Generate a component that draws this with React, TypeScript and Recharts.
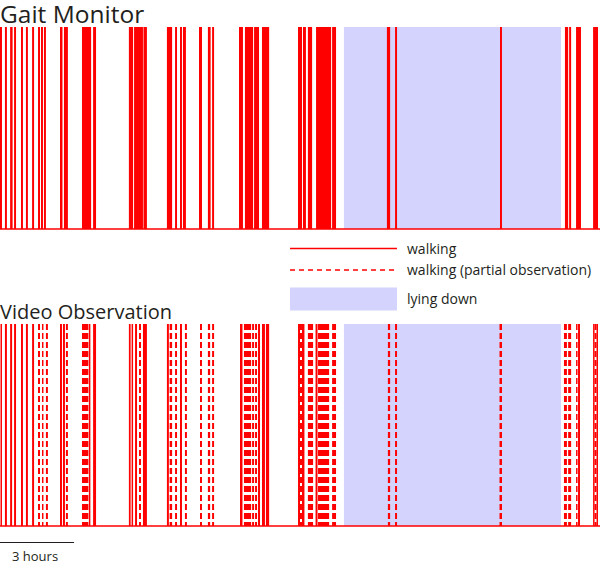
import { ComposedChart, XAxis, YAxis, ReferenceArea, Line } from "recharts";

const RED = "#ff0000";
const LAVENDER = "#d3d3fe";
const FONT = "'Open Sans', sans-serif";

const SPAN_HOURS = 24.3;
const SCALE_BAR_HOURS = 3;
const WIDTH = 600;

// walking bouts, [start, end] in hours from the start of the recording
const gaitWalking: [number, number][] = [
  [0.0, 0.08], [0.2, 0.28], [0.41, 0.51], [0.57, 0.65], [0.85, 0.93],
  [1.05, 1.13], [1.3, 1.38], [1.54, 1.62], [1.66, 1.74], [1.78, 1.86],
  [2.43, 2.53], [2.59, 2.75], [3.32, 3.69], [3.77, 3.89], [5.22, 5.39],
  [5.43, 5.79], [5.81, 5.95], [6.76, 6.97], [7.09, 7.17], [7.29, 7.37],
  [7.41, 7.53], [8.06, 8.18], [8.42, 8.53], [8.59, 8.67], [9.68, 9.84],
  [9.92, 10.25], [10.29, 10.49], [10.61, 10.9], [12.07, 12.23], [12.27, 12.39],
  [12.47, 12.64], [12.8, 13.41], [13.45, 13.61], [15.67, 15.8], [16.0, 16.08],
  [20.25, 20.33], [22.88, 23.01], [23.05, 23.13], [23.33, 23.53], [24.02, 24.22],
];

const videoWalking: [number, number][] = [
  [0.02, 0.08], [0.2, 0.28], [0.41, 0.49], [0.57, 0.65], [0.85, 0.93],
  [1.05, 1.13], [1.3, 1.38], [2.43, 2.51], [2.55, 2.63], [3.6, 3.66],
  [3.77, 3.89], [5.22, 5.29], [5.33, 5.39], [5.47, 5.55], [5.79, 5.95],
  [6.76, 6.84], [7.29, 7.37], [9.72, 9.82], [10.45, 10.53], [10.61, 10.73],
  [10.77, 10.9], [12.07, 12.15], [12.23, 12.33], [12.78, 12.86], [23.41, 23.49],
  [24.02, 24.08], [24.16, 24.22],
];

const videoPartial: [number, number][] = [
  [1.54, 1.62], [1.7, 1.76], [1.86, 1.94], [2.67, 2.75], [3.32, 3.58],
  [5.63, 5.71], [6.87, 6.97], [7.09, 7.17], [7.49, 7.57], [8.1, 8.18],
  [8.42, 8.51], [8.59, 8.67], [9.88, 10.17], [10.21, 10.29], [10.33, 10.41],
  [12.15, 12.23], [12.47, 12.68], [12.88, 13.33], [13.45, 13.61], [15.71, 15.8],
  [16.0, 16.08], [20.23, 20.33], [22.84, 22.96], [23.01, 23.13], [23.33, 23.39],
  [24.08, 24.16],
];

const lyingDown: [number, number][] = [[13.93, 22.72]];

const baseline = [
  { t: 0, v: 0 },
  { t: SPAN_HOURS, v: 0 },
];

const legendItems = [
  { label: "walking", kind: "solid" },
  { label: "walking (partial observation)", kind: "dashed" },
  { label: "lying down", kind: "area" },
];

function Panel({ solid, dashed, id }: { solid: [number, number][]; dashed: [number, number][]; id: string }) {
  return (
    <ComposedChart
      width={WIDTH}
      height={203}
      data={baseline}
      margin={{ top: 0, right: 0, bottom: 1, left: 0 }}
    >
      <defs>
        <pattern id={id} patternUnits="userSpaceOnUse" width={4} height={9}>
          <rect x={0} y={0} width={4} height={6} fill={RED} />
        </pattern>
      </defs>
      <XAxis type="number" dataKey="t" domain={[0, SPAN_HOURS]} hide />
      <YAxis type="number" domain={[0, 1]} hide />
      {lyingDown.map(([a, b], i) => (
        <ReferenceArea key={"lie" + i} x1={a} x2={b} fill={LAVENDER} fillOpacity={1} stroke="none" />
      ))}
      {dashed.map(([a, b], i) => (
        <ReferenceArea key={"part" + i} x1={a} x2={b} fill={`url(#${id})`} fillOpacity={1} stroke="none" />
      ))}
      {solid.map(([a, b], i) => (
        <ReferenceArea key={"walk" + i} x1={a} x2={b} fill={RED} fillOpacity={1} stroke="none" />
      ))}
      <Line dataKey="v" stroke={RED} strokeWidth={1.5} dot={false} isAnimationActive={false} />
    </ComposedChart>
  );
}

export default function App() {
  const barPx = (SCALE_BAR_HOURS / SPAN_HOURS) * WIDTH;

  return (
    <div style={{ position: "absolute", left: 0, top: 0, width: 600, height: 568, fontFamily: FONT, color: "#231f20" }}>
      <div style={{ position: "absolute", left: 0, top: 1, fontSize: 24.5, lineHeight: "25px" }}>Gait Monitor</div>
      <div style={{ position: "absolute", left: 0, top: 27 }}>
        <Panel solid={gaitWalking} dashed={[]} id="dashTop" />
      </div>

      <svg style={{ position: "absolute", left: 280, top: 238 }} width={320} height={75}>
        {legendItems.map((item, i) => {
          const y = 10.5 + i * 21.5;
          return (
            <g key={item.label}>
              {item.kind === "area" ? (
                <rect x={10} y={y - 4} width={107} height={23} fill={LAVENDER} />
              ) : (
                <line
                  x1={10}
                  x2={117}
                  y1={y}
                  y2={y}
                  stroke={RED}
                  strokeWidth={1.5}
                  strokeDasharray={item.kind === "dashed" ? "5 4" : undefined}
                />
              )}
              <text x={127} y={item.kind === "area" ? y + 12 : y + 5} fontSize={14} fill="#231f20" fontFamily={FONT}>
                {item.label}
              </text>
            </g>
          );
        })}
      </svg>

      <div style={{ position: "absolute", left: 0, top: 300, fontSize: 20, lineHeight: "24px" }}>Video Observation</div>
      <div style={{ position: "absolute", left: 0, top: 324 }}>
        <Panel solid={videoWalking} dashed={videoPartial} id="dashBottom" />
      </div>

      <svg style={{ position: "absolute", left: 0, top: 536 }} width={120} height={32}>
        <line x1={0} x2={barPx} y1={6.5} y2={6.5} stroke="#231f20" strokeWidth={1} />
        <text x={12} y={25} fontSize={13} fill="#231f20" fontFamily={FONT}>
          {SCALE_BAR_HOURS} hours
        </text>
      </svg>
    </div>
  );
}
